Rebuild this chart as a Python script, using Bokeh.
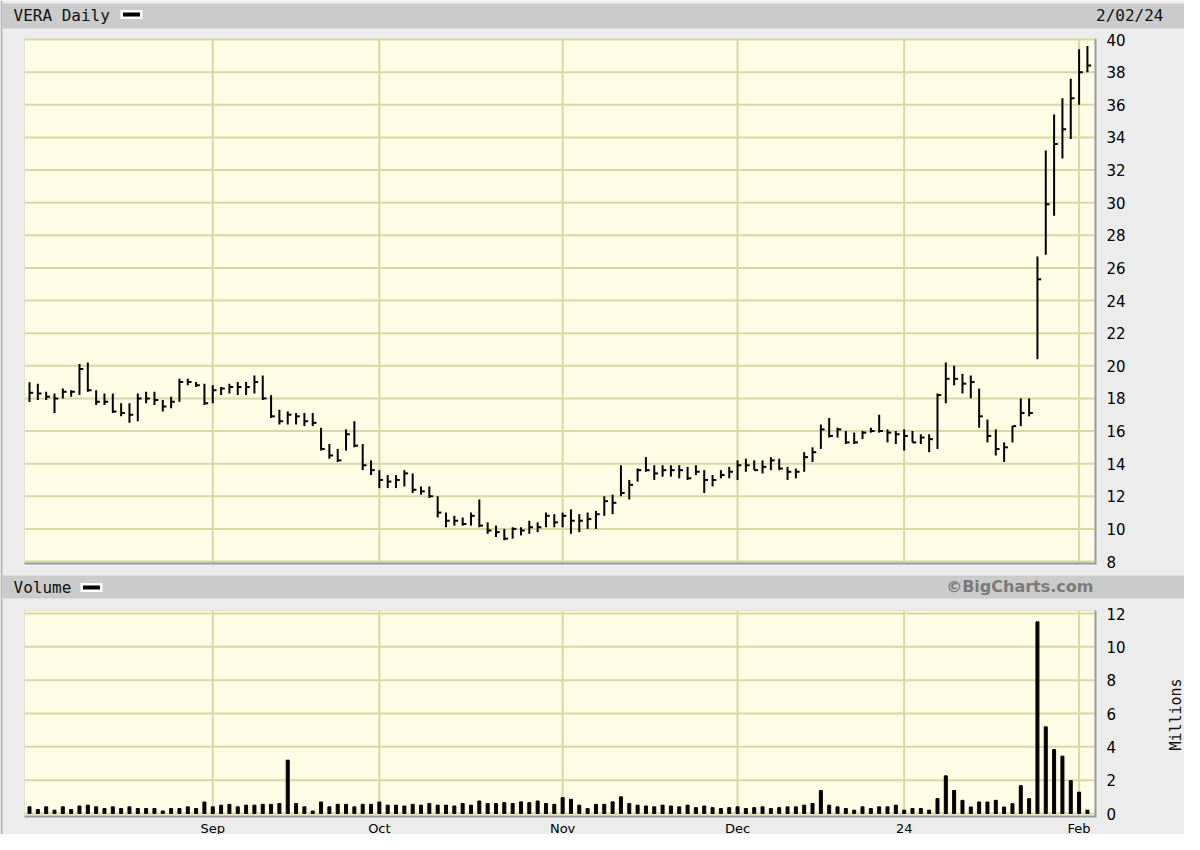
import math
from bokeh.plotting import figure
from bokeh.models import Range1d
from bokeh.core.properties import value
from bokeh.embed import file_html
from bokeh.resources import INLINE

# ---------------- data ----------------
month_ticks = [22, 42, 64, 85, 105, 126]
month_labels = ["Sep", "Oct", "Nov", "Dec", "24", "Feb"]
price_ticks = list(range(8, 41, 2))
volume_ticks = list(range(0, 13, 2))

high = [18.99, 18.9, 18.4, 18.3, 18.6, 18.5, 20.1, 20.2, 18.5, 18.3,
        18.3, 17.7, 17.7, 18.3, 18.4, 18.4, 17.9, 18.1, 19.2, 19.2,
        19.0, 18.9, 18.8, 18.7, 18.9, 19.0, 19.0, 19.4, 19.4, 18.2,
        17.3, 17.2, 17.1, 17.1, 17.1, 16.2, 15.2, 14.9, 16.1, 16.6,
        15.2, 14.2, 13.6, 13.3, 13.3, 13.6, 13.4, 12.6, 12.6, 12.0,
        11.0, 10.8, 10.7, 11.0, 11.8, 10.4, 10.2, 10.0, 10.1, 10.1,
        10.5, 10.4, 11.0, 10.9, 11.0, 11.2, 10.9, 11.0, 11.1, 12.0,
        12.1, 13.9, 13.0, 13.7, 14.4, 13.9, 13.9, 13.9, 13.9, 13.8,
        13.9, 13.6, 13.3, 13.6, 13.8, 14.2, 14.3, 14.2, 14.2, 14.4,
        14.3, 13.8, 13.7, 14.7, 15.0, 16.4, 16.8, 16.2, 16.0, 15.9,
        16.0, 16.2, 17.0, 16.1, 16.0, 16.1, 16.0, 15.8, 15.8, 18.3,
        20.2, 20.0, 19.5, 19.4, 18.6, 16.7, 16.1, 15.3, 16.3, 18.0,
        18.0, 26.7, 33.2, 35.4, 36.4, 37.6, 39.4, 39.6]
low = [17.78, 17.9, 17.9, 17.1, 18.0, 18.1, 18.2, 18.4, 17.6, 17.6,
       17.1, 16.9, 16.5, 16.6, 17.7, 17.6, 17.2, 17.4, 17.8, 18.8,
       18.7, 17.6, 17.7, 18.2, 18.3, 18.2, 18.2, 18.3, 17.9, 16.8,
       16.4, 16.4, 16.4, 16.3, 16.3, 14.8, 14.3, 14.1, 14.8, 15.0,
       13.6, 13.3, 12.5, 12.5, 12.5, 12.6, 12.2, 12.1, 11.9, 10.7,
       10.1, 10.2, 10.2, 10.2, 10.1, 9.7, 9.5, 9.3, 9.4, 9.6,
       9.7, 9.8, 10.1, 10.1, 10.1, 9.7, 9.8, 10.0, 10.0, 10.8,
       10.9, 12.0, 11.8, 12.9, 13.5, 13.0, 13.2, 13.2, 13.1, 13.0,
       13.3, 12.2, 12.6, 13.1, 13.1, 13.0, 13.5, 13.6, 13.4, 13.6,
       13.6, 13.0, 13.1, 13.5, 14.1, 14.9, 15.6, 15.6, 15.2, 15.2,
       15.5, 15.9, 15.9, 15.3, 15.2, 14.8, 15.3, 15.2, 14.7, 14.9,
       17.7, 18.8, 18.3, 18.0, 16.2, 15.3, 14.5, 14.1, 15.3, 16.3,
       16.9, 20.4, 26.8, 29.2, 32.7, 33.9, 36.0, 38.0]
close = [18.34, 18.3, 18.1, 18.0, 18.4, 18.4, 19.8, 18.5, 17.8, 17.8,
         17.2, 17.1, 17.0, 18.0, 18.0, 17.9, 17.5, 17.8, 19.0, 19.0,
         18.8, 17.7, 18.5, 18.6, 18.7, 18.7, 18.7, 19.0, 18.0, 16.9,
         16.6, 17.0, 16.9, 16.6, 16.5, 14.9, 14.5, 14.2, 15.8, 15.1,
         13.9, 13.6, 13.0, 12.9, 13.0, 13.4, 12.4, 12.3, 12.0, 11.0,
         10.5, 10.5, 10.3, 10.8, 10.2, 9.9, 9.8, 9.4, 10.0, 9.9,
         10.1, 10.1, 10.8, 10.4, 10.8, 10.5, 10.5, 10.6, 10.9, 11.7,
         11.6, 12.2, 12.7, 13.6, 13.6, 13.4, 13.6, 13.6, 13.6, 13.1,
         13.5, 13.0, 13.0, 13.3, 13.5, 13.9, 13.9, 13.6, 13.8, 14.2,
         13.7, 13.5, 13.5, 14.4, 14.7, 16.1, 15.7, 16.1, 15.3, 15.3,
         15.9, 16.0, 16.0, 15.9, 15.8, 15.7, 15.3, 15.6, 15.5, 18.2,
         19.2, 19.2, 18.9, 19.0, 16.9, 15.7, 14.9, 15.0, 16.3, 17.1,
         17.1, 25.3, 29.9, 33.6, 34.5, 36.4, 38.0, 38.4]
volume = [0.4, 0.24, 0.4, 0.2, 0.4, 0.24, 0.45, 0.5, 0.4, 0.3,
          0.4, 0.3, 0.4, 0.3, 0.3, 0.3, 0.15, 0.3, 0.3, 0.4,
          0.3, 0.69, 0.4, 0.5, 0.55, 0.4, 0.5, 0.5, 0.55, 0.55,
          0.6, 3.2, 0.6, 0.4, 0.15, 0.69, 0.4, 0.55, 0.55, 0.4,
          0.55, 0.55, 0.69, 0.5, 0.5, 0.45, 0.55, 0.5, 0.6, 0.5,
          0.5, 0.45, 0.6, 0.5, 0.75, 0.6, 0.6, 0.65, 0.6, 0.7,
          0.65, 0.75, 0.6, 0.55, 0.95, 0.85, 0.5, 0.3, 0.55, 0.55,
          0.7, 1.0, 0.6, 0.5, 0.45, 0.4, 0.5, 0.45, 0.4, 0.5,
          0.35, 0.45, 0.35, 0.3, 0.35, 0.4, 0.3, 0.35, 0.4, 0.3,
          0.35, 0.4, 0.4, 0.5, 0.6, 1.38, 0.5, 0.4, 0.3, 0.2,
          0.4, 0.3, 0.4, 0.4, 0.5, 0.2, 0.3, 0.3, 0.2, 0.9,
          2.26, 1.38, 0.79, 0.39, 0.69, 0.69, 0.79, 0.39, 0.59, 1.67,
          0.89, 11.5, 5.2, 3.84, 3.44, 1.97, 1.28, 0.2]
day = list(range(len(high)))

# ---------------- layout (picture pixels) ----------------
OUTER = "#ececec"
BAND = "#cbcbcb"
PLOT_BG = "#fffde6"
GRID = "#d8d8a4"
EDGE = "#9c9c9c"
W, H = 1184, 834
DAY0_X = 29                    # x of first trading day
DAY_PX = 1070 / 128.45         # pixels per trading day
FL, FR = 24, 1094              # plot frames, left / right
PT, PB = 39, 561               # price frame, top / bottom (40 .. 8)
VS = -4                        # lift of the volume header
BT, BB = 579 + VS, 602 + VS    # volume header band
VT, VB = 610, 815              # volume frame top / bottom
V0, V12 = 813, 613             # volume 0 and 12 pixel rows


def px(x):
    return (x - DAY0_X) / DAY_PX


def py(y):
    return 40 - (y - PT) * 32 / (PB - PT)


def vy(y):
    return (V0 - y) * 12 / (V0 - V12)


p = figure(width=W, height=H,
           x_range=Range1d(px(0), px(W)),
           y_range=Range1d(py(H), py(0)),
           output_backend="svg", toolbar_location=None,
           x_axis_location=None, y_axis_location=None,
           min_border=0, outline_line_color=None,
           background_fill_color=OUTER, border_fill_color=OUTER)
p.extra_y_ranges = {"vol": Range1d(vy(H), vy(0))}
p.xgrid.grid_line_color = None
p.ygrid.grid_line_color = None

mono = value("DejaVu Sans Mono")
sans = value("DejaVu Sans")

# outer left border
p.segment(x0=[px(1)], x1=[px(1)], y0=[py(0)], y1=[py(H)],
          line_color="#b4b4b4", line_width=2)

# header bands
p.quad(left=[px(2), px(2)], right=[px(W), px(W)],
       top=[py(3), py(BT)], bottom=[py(28), py(BB)],
       fill_color=BAND, line_color=None)

# plot frames
p.quad(left=[px(FL), px(FL)], right=[px(FR), px(FR)],
       top=[py(PT - 1), py(VT)], bottom=[py(PB + 1), py(VB)],
       fill_color=PLOT_BG, line_color=None)

# price grid
n = len(price_ticks)
p.segment(x0=[px(FL)] * n, x1=[px(FR)] * n, y0=price_ticks, y1=price_ticks,
          line_color=GRID, line_width=2)
m = len(month_ticks)
p.segment(x0=month_ticks, x1=month_ticks, y0=[py(PT - 1)] * m, y1=[py(PB + 1)] * m,
          line_color=GRID, line_width=2)
# volume grid
nv = len(volume_ticks)
p.segment(x0=[px(FL)] * nv, x1=[px(FR)] * nv, y0=volume_ticks, y1=volume_ticks,
          line_color=GRID, line_width=2, y_range_name="vol")
p.segment(x0=month_ticks, x1=month_ticks, y0=[py(VT)] * m, y1=[py(VB)] * m,
          line_color=GRID, line_width=2)

# frame edges: light top/left, darker right/bottom
p.segment(x0=[px(FL), px(FL), px(FL), px(FL)],
          x1=[px(FR), px(FL), px(FR), px(FL)],
          y0=[py(PT - 1), py(PT - 1), py(VT), py(VT)],
          y1=[py(PT - 1), py(PB + 1), py(VT), py(VB)],
          line_color="#e2e2c4", line_width=1)
p.segment(x0=[px(FR + 1), px(FL), px(FR + 1), px(FL)],
          x1=[px(FR + 1), px(FR + 2), px(FR + 1), px(FR + 2)],
          y0=[py(PT - 1), py(PB + 2), py(VT), py(VB + 1)],
          y1=[py(PB + 2), py(PB + 2), py(VB + 1), py(VB + 1)],
          line_color=EDGE, line_width=2)

# price HLC bars
p.segment(x0=day, y0=low, x1=day, y1=high, line_color="black", line_width=2)
p.segment(x0=day, y0=close, x1=[d + 0.45 for d in day], y1=close,
          line_color="black", line_width=2)

# volume bars
p.vbar(x=day, top=volume, bottom=0, width=0.36, color="black", y_range_name="vol")

# axis labels
p.text(x=[px(1106)] * n, y=price_ticks, text=[str(t) for t in price_ticks],
       text_align="left", text_baseline="middle", text_font=sans,
       text_font_size="15px", text_color="black")
p.text(x=[px(1106)] * nv, y=volume_ticks, text=[str(t) for t in volume_ticks],
       text_align="left", text_baseline="middle", text_font=sans,
       text_font_size="15px", text_color="black", y_range_name="vol")
p.text(x=month_ticks, y=[py(827.5)] * m, text=month_labels,
       text_align="center", text_baseline="alphabetic", text_font=sans,
       text_font_size="13px", text_color="black")
p.text(x=[px(1175)], y=[py(714)], text=["Millions"], angle=math.pi / 2,
       text_align="center", text_baseline="middle", text_font=mono,
       text_font_size="15px", text_color="#111111")

# header texts
p.text(x=[px(13), px(13)], y=[py(14.5), py(591 + VS)], text=["VERA Daily", "Volume"],
       text_align="left", text_baseline="middle", text_font=mono,
       text_font_size="16px", text_color="#111111")
p.text(x=[px(1163)], y=[py(14.5)], text=["2/02/24"],
       text_align="right", text_baseline="middle", text_font=mono,
       text_font_size="16px", text_color="#111111")
p.text(x=[px(1093)], y=[py(590 + VS)], text=["\u00a9BigCharts.com"],
       text_align="right", text_baseline="middle", text_font=sans,
       text_font_size="16px", text_font_style="bold", text_color="#7a7a7a")

# legend dash icons
p.quad(left=[px(120), px(80)], right=[px(142), px(102)],
       top=[py(9.5), py(586.5 + VS)], bottom=[py(18.5), py(595.5 + VS)],
       fill_color="white", line_color=None)
p.quad(left=[px(122.5), px(82.5)], right=[px(139.5), px(99.5)],
       top=[py(12), py(589 + VS)], bottom=[py(16), py(593 + VS)],
       fill_color="black", line_color=None)

open("out.html", "w").write(file_html(p, INLINE))
